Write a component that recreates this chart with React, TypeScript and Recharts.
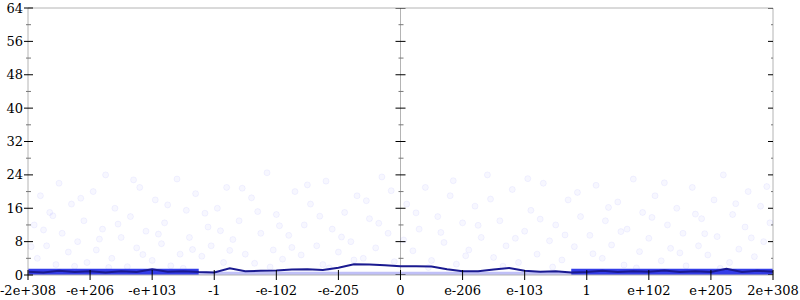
import React from "react";
import {
  ComposedChart,
  Scatter,
  Line,
  Area,
  XAxis,
  YAxis,
  ReferenceLine,
} from "recharts";

// x positions are ordinal slots: -6 .. 6 map to the labels below
const xTicks = [-6, -5, -4, -3, -2, -1, 0, 1, 2, 3, 4, 5, 6];
const xTickLabels = [
  "-2e+308", "-e+206", "-e+103", "-1", "-e-102", "-e-205", "0",
  "e-206", "e-103", "1", "e+102", "e+205", "2e+308",
];
const yTicks = [0, 4, 8, 12, 16, 20, 24, 28, 32, 36, 40, 44, 48, 52, 56, 60, 64];

// average error line
const lineX = [
  -6, -5.75, -5.5, -5.25, -5, -4.75, -4.5, -4.25, -4, -3.75, -3.5, -3.25,
  -3, -2.75, -2.5, -2.25, -2, -1.75, -1.5, -1.25, -1, -0.75, -0.5, -0.25,
  0, 0.25, 0.5, 0.75, 1, 1.25, 1.5, 1.75, 2, 2.25, 2.5, 2.75,
  3, 3.25, 3.5, 3.75, 4, 4.25, 4.5, 4.75, 5, 5.25, 5.5, 5.75, 6,
];
const lineY = [
  0.8, 0.6, 1.0, 0.7, 0.9, 0.6, 0.9, 0.7, 1.4, 0.8, 0.9, 0.7,
  0.6, 1.6, 0.9, 1.0, 1.1, 1.3, 1.4, 1.2, 1.75, 2.55, 2.5, 2.35,
  2.1, 2.1, 2.05, 1.4, 0.9, 0.9, 1.3, 1.7, 1.0, 0.8, 0.9, 0.6,
  0.7, 1.0, 0.7, 0.9, 0.8, 1.1, 0.7, 0.9, 0.7, 1.5, 0.7, 1.0, 0.8,
];

// dense low-error band
const darkBandLeftX = [-6, -3.25];
const darkBandRightX = [2.75, 6];
const darkBandY = [1.5, 1.5];
const lightBandX = [-3.25, 2.75];
const lightBandY = [0.8, 0.8];

// individual sample errors
const samples: [number, number][] = [
  [-5.9, 12], [-5.85, 4], [-5.8, 19], [-5.7, 7], [-5.65, 15], [-5.55, 2.5], [-5.5, 22],
  [-5.45, 10], [-5.35, 5.5], [-5.3, 17], [-5.2, 8], [-5.1, 13], [-5.05, 3], [-4.95, 20],
  [-4.9, 6], [-4.8, 11], [-4.75, 24], [-4.65, 4], [-4.6, 16], [-4.5, 9], [-4.4, 2],
  [-4.35, 14], [-4.25, 6.5], [-4.2, 21], [-4.1, 10.5], [-4.0, 3.5], [-3.95, 18], [-3.85, 7.5],
  [-3.8, 12.5], [-3.7, 2.2], [-3.6, 23], [-3.55, 5], [-3.45, 15.5], [-3.4, 9], [-3.3, 19.5],
  [-3.2, 4.5], [-3.1, 11.5], [-3.05, 7],
  [-2.95, 16], [-2.85, 3], [-2.8, 21], [-2.7, 8.5], [-2.6, 13], [-2.5, 5], [-2.4, 18.5],
  [-2.35, 2.8], [-2.25, 10], [-2.15, 24.5], [-2.05, 6], [-2.0, 14.5], [-1.9, 3.8], [-1.8, 9.5],
  [-1.7, 20], [-1.6, 4.8], [-1.55, 12], [-1.45, 17], [-1.35, 7], [-1.25, 2.5], [-1.2, 22.5],
  [-1.1, 11], [-1.0, 5.5], [-0.9, 15], [-0.8, 8], [-0.7, 19], [-0.6, 4], [-0.5, 13.5],
  [-0.4, 6.5], [-0.3, 23.5], [-0.2, 10], [-0.1, 3.2],
  [0.1, 17], [0.2, 5.8], [0.3, 11], [0.4, 21], [0.5, 3.5], [0.6, 14], [0.7, 7.8],
  [0.8, 19], [0.9, 2.6], [1.0, 12.5], [1.1, 6], [1.2, 16.5], [1.3, 9], [1.4, 24],
  [1.5, 4.2], [1.6, 13], [1.7, 7], [1.8, 20.5], [1.9, 3], [2.0, 10.5], [2.1, 15.5],
  [2.2, 5], [2.3, 22], [2.4, 8.2], [2.5, 12], [2.6, 3.6], [2.7, 18], [2.8, 6.8], [2.9, 14],
  [3.05, 9.5], [3.15, 21.5], [3.25, 4], [3.3, 13], [3.4, 7.2], [3.5, 17.5], [3.6, 2.4],
  [3.65, 11], [3.75, 23], [3.85, 5.6], [3.9, 15], [4.0, 8.8], [4.1, 19], [4.2, 3.4],
  [4.3, 12], [4.35, 6.4], [4.45, 16], [4.55, 10], [4.6, 2.2], [4.7, 21], [4.8, 7],
  [4.85, 13.5], [4.95, 4.8], [5.05, 18], [5.1, 9.2], [5.2, 24], [5.3, 3], [5.35, 14.5],
  [5.45, 6.2], [5.55, 11.5], [5.6, 20], [5.7, 4.4], [5.8, 16.5], [5.85, 8], [5.95, 12.5],
  // second pass, filling gaps
  [-5.95, 6.8], [-5.75, 10.8], [-5.6, 14.2], [-5.25, 2.1], [-5.15, 18.4], [-4.85, 8.6],
  [-4.7, 1.8], [-4.55, 12.2], [-4.3, 22.8], [-4.15, 4.9], [-3.9, 9.8], [-3.75, 16.8],
  [-3.5, 1.6], [-3.35, 6.1], [-3.15, 14.8], [-2.9, 10.6], [-2.75, 5.9], [-2.55, 20.8],
  [-2.3, 15.2], [-2.1, 1.9], [-1.95, 11.8], [-1.75, 6.6], [-1.5, 21.6], [-1.3, 14.1],
  [-1.15, 1.7], [-0.95, 9.1], [-0.75, 3.6], [-0.55, 17.8], [-0.35, 12.4], [-0.15, 20.2],
  [0.05, 8.4], [0.25, 14.9], [0.45, 1.8], [0.65, 10.2], [0.85, 22.6], [1.05, 4.6],
  [1.25, 11.9], [1.45, 18.2], [1.65, 2.1], [1.85, 8.8], [2.05, 23.1], [2.25, 13.4],
  [2.45, 1.9], [2.65, 9.6], [2.85, 19.8], [3.1, 5.1], [3.35, 16.2], [3.55, 10.4],
  [3.8, 1.7], [4.05, 13.8], [4.25, 22.1], [4.5, 5.3], [4.75, 14.6], [4.9, 9.9],
  [5.15, 1.6], [5.4, 17.1], [5.65, 8.9], [5.9, 21.2],
];

const pairs = (xs: number[], ys: number[]) => xs.map((x, i) => ({ x, y: ys[i] }));

const FONT = "DejaVu Serif";
const AXIS_GRAY = "#b4b4b4";
const TICK_SIZE = 6;
const TICK_MARGIN = 2;

const XTick = (props: any) => {
  const { x, y, payload } = props;
  const ay = y - TICK_SIZE - TICK_MARGIN;
  const idx = xTicks.indexOf(payload.value);
  return (
    <g>
      <line x1={x} x2={x} y1={ay - 5} y2={ay + 5} stroke="#000" strokeWidth={1} />
      <text x={x} y={ay + 20} textAnchor="middle" style={{ fontFamily: FONT, fontSize: 13 }} fill="#000">
        {xTickLabels[idx]}
      </text>
    </g>
  );
};

const YTick = (props: any) => {
  const { x, y, payload } = props;
  const ax = x + TICK_SIZE + TICK_MARGIN;
  const major = payload.value % 8 === 0;
  return (
    <g>
      <line
        x1={ax - (major ? 4 : 2)}
        x2={ax + (major ? 5 : 3)}
        y1={y}
        y2={y}
        stroke={major ? "#000" : "#777"}
        strokeWidth={1}
      />
      {major && (
        <text x={ax - 5} y={y + 4.5} textAnchor="end" style={{ fontFamily: FONT, fontSize: 13 }} fill="#000">
          {payload.value}
        </text>
      )}
    </g>
  );
};

const AxisTickMark = (props: any) => {
  const { cx, cy, payload } = props;
  const major = payload.y % 8 === 0;
  return (
    <line
      x1={cx - (major ? 5 : 2)}
      x2={cx + (major ? 5 : 3)}
      y1={cy}
      y2={cy}
      stroke={major ? "#000" : "#777"}
      strokeWidth={1}
    />
  );
};

const SampleDot = (props: any) => {
  const { cx, cy } = props;
  return (
    <circle cx={cx} cy={cy} r={3} fill="#3c3cff" fillOpacity={0.04} stroke="#3c3cff" strokeOpacity={0.06} />
  );
};

export default function App() {
  const sampleData = samples.map(([x, y]) => ({ x, y }));
  const centerTicks = yTicks.map((y) => ({ x: 0, y }));
  const rightTicks = yTicks.map((y) => ({ x: 6, y }));

  return (
    <div style={{ position: "absolute", left: 0, top: 0, background: "#fff" }}>
      <ComposedChart width={800} height={300} margin={{ top: 8, right: 27, left: 0, bottom: 0 }}>
        <XAxis
          type="number"
          dataKey="x"
          domain={[-6, 6]}
          ticks={xTicks}
          interval={0}
          height={25}
          axisLine={{ stroke: AXIS_GRAY }}
          tickLine={false}
          tickSize={TICK_SIZE}
          tickMargin={TICK_MARGIN}
          tick={(p: any) => <XTick {...p} />}
          allowDataOverflow
        />
        <YAxis
          type="number"
          dataKey="y"
          domain={[0, 64]}
          ticks={yTicks}
          interval={0}
          width={28}
          axisLine={{ stroke: AXIS_GRAY }}
          tickLine={false}
          tickSize={TICK_SIZE}
          tickMargin={TICK_MARGIN}
          tick={(p: any) => <YTick {...p} />}
          allowDataOverflow
        />
        <ReferenceLine y={64} stroke={AXIS_GRAY} />
        <ReferenceLine x={0} stroke={AXIS_GRAY} />
        <ReferenceLine x={6} stroke={AXIS_GRAY} />

        <Scatter data={sampleData} shape={(p: any) => <SampleDot {...p} />} isAnimationActive={false} />

        <Area
          data={pairs(lightBandX, lightBandY)}
          dataKey="y"
          type="linear"
          stroke="none"
          fill="#9696f2"
          fillOpacity={0.6}
          isAnimationActive={false}
        />
        <Area
          data={pairs(darkBandLeftX, darkBandY)}
          dataKey="y"
          type="linear"
          stroke="none"
          fill="#1e28e6"
          fillOpacity={0.9}
          isAnimationActive={false}
        />
        <Area
          data={pairs(darkBandRightX, darkBandY)}
          dataKey="y"
          type="linear"
          stroke="none"
          fill="#1e28e6"
          fillOpacity={0.9}
          isAnimationActive={false}
        />

        <Line
          data={pairs(lineX, lineY)}
          dataKey="y"
          type="linear"
          stroke="#1a1a90"
          strokeWidth={2}
          dot={false}
          isAnimationActive={false}
        />

        <Scatter data={centerTicks} shape={(p: any) => <AxisTickMark {...p} />} isAnimationActive={false} />
        <Scatter data={rightTicks} shape={(p: any) => <AxisTickMark {...p} />} isAnimationActive={false} />
      </ComposedChart>
    </div>
  );
}
